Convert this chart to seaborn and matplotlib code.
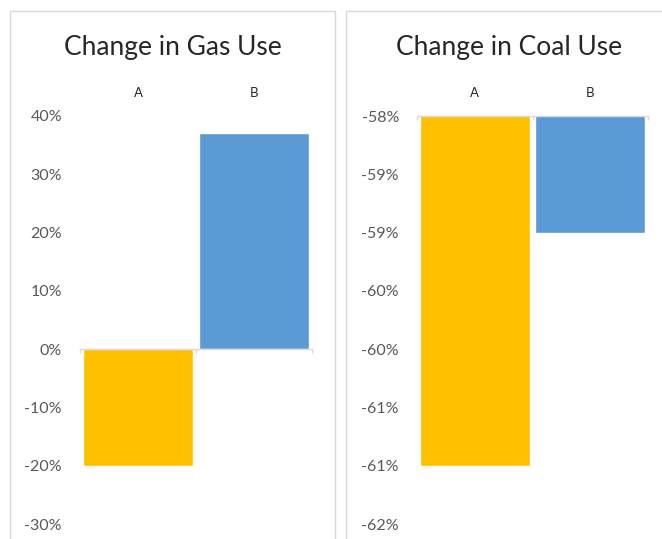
import numpy as np
import pandas as pd
import matplotlib; matplotlib.use('Agg')
import matplotlib.pyplot as plt
from matplotlib.patches import Rectangle
import seaborn as sns

# ── DATA ──────────────────────────────────────────────────
CATEGORIES = ['A', 'B']
GAS_CHANGE = [-0.20, 0.37]
COAL_CHANGE = [-0.61, -0.59]
GAS_TICKS = [-0.30, -0.20, -0.10, 0.0, 0.10, 0.20, 0.30, 0.40]
GAS_TICK_LABELS = ['-30%', '-20%', '-10%', '0%', '10%', '20%', '30%', '40%']
COAL_TICKS = [-0.615, -0.61, -0.605, -0.60, -0.595, -0.59, -0.585, -0.58]
COAL_TICK_LABELS = ['-62%', '-61%', '-61%', '-60%', '-60%', '-59%', '-59%', '-58%']
TITLES = ['Change in Gas Use', 'Change in Coal Use']

COLORS = ['#FFC000', '#5B9BD5']
GRID_GRAY = '#D9D9D9'
LABEL_GRAY = '#595959'

sns.set_theme(style='white')
plt.rcParams['font.family'] = ['Lato', 'DejaVu Sans']

W, H = 662, 539
fig = plt.figure(figsize=(W / 100, H / 100), dpi=100, facecolor='white')

def fx(px): return px / W
def fy(py): return 1 - py / H

ax1 = fig.add_axes([fx(80), fy(524), fx(312) - fx(80), fy(116) - fy(524)])
ax2 = fig.add_axes([fx(417), fy(524), fx(648) - fx(417), fy(116) - fy(524)])

panels = [
    (ax1, GAS_CHANGE, GAS_TICKS, GAS_TICK_LABELS, 0.0),
    (ax2, COAL_CHANGE, COAL_TICKS, COAL_TICK_LABELS, COAL_TICKS[-1]),
]

for ax, vals, ticks, tlabels, base in panels:
    df = pd.DataFrame({'cat': CATEGORIES, 'val': vals})
    sns.barplot(data=df, x='cat', y='val', hue='cat', palette=COLORS,
                width=0.95, legend=False, ax=ax, saturation=1)
    ax.set_ylim(ticks[0], ticks[-1])
    ax.set_xlim(-0.5, len(CATEGORIES) - 0.5)
    ax.set_yticks(ticks)
    ax.set_yticklabels(tlabels)
    ax.xaxis.tick_top()
    ax.tick_params(axis='x', length=0, pad=12, labelsize=9.5, labelcolor='#262626')
    ax.tick_params(axis='y', length=0, pad=13, labelsize=11.5, labelcolor=LABEL_GRAY)
    ax.set_xlabel(''); ax.set_ylabel('')
    for s in ax.spines.values():
        s.set_visible(False)
    ax.axhline(base, color=GRID_GRAY, lw=1, zorder=3, clip_on=False)
    # small category tick marks on the axis line
    span = ticks[-1] - ticks[0]
    ax.vlines([-0.5, 0.5, 1.5], base, base - span * 0.01, color=GRID_GRAY,
              lw=1, zorder=3, clip_on=False)

# titles centered over each panel
fig.text(fx(173), fy(47), TITLES[0], ha='center', va='center',
         fontsize=19, color='#262626')
fig.text(fx(509), fy(47), TITLES[1], ha='center', va='center',
         fontsize=19, color='#262626')

# panel borders
fig.add_artist(Rectangle((fx(10), -0.1), fx(335) - fx(10), fy(11) + 0.1,
                         transform=fig.transFigure, fill=False,
                         edgecolor=GRID_GRAY, lw=1))
fig.add_artist(Rectangle((fx(346), -0.1), 1.0, fy(11) + 0.1,
                         transform=fig.transFigure, fill=False,
                         edgecolor=GRID_GRAY, lw=1))

plt.savefig('out.png', dpi=100, facecolor='white')
plt.close()
